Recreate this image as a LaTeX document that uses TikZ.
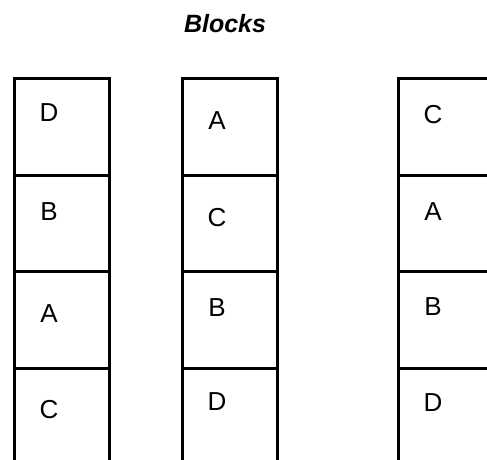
\documentclass[tikz,border=0pt]{standalone}
\usepackage{fontspec}
\setmainfont{Liberation Sans}
\begin{document}
\begin{tikzpicture}[x=1pt,y=-1pt,
  cell/.style={draw, line width=3.2pt, minimum width=95pt, minimum height=96.5pt, inner sep=0pt, anchor=north west},
  letter/.style={font=\fontsize{26}{30}\selectfont, inner sep=0pt, anchor=center},
  title/.style={font=\fontsize{25}{29}\selectfont\bfseries\itshape, inner sep=0pt}]
\useasboundingbox (0,0) rectangle (487,460);
\clip (0,0) rectangle (487,460);
\node[title] (t) at (225,24) {Blocks};
% stack 1
\node[cell] (s1a) at (13,77) {};
\node[cell] (s1b) at (13,173.5) {};
\node[cell] (s1c) at (13,270) {};
\node[cell] (s1d) at (13,366.5) {};
\node[letter] (l1a) at (49,113) {D};
\node[letter] (l1b) at (49,212) {B};
\node[letter] (l1c) at (49,314) {A};
\node[letter] (l1d) at (49,410) {C};
% stack 2
\node[cell] (s2a) at (181,77) {};
\node[cell] (s2b) at (181,173.5) {};
\node[cell] (s2c) at (181,270) {};
\node[cell] (s2d) at (181,366.5) {};
\node[letter] (l2a) at (217,121) {A};
\node[letter] (l2b) at (217,218) {C};
\node[letter] (l2c) at (217,308) {B};
\node[letter] (l2d) at (217,402) {D};
% stack 3
\node[cell] (s3a) at (397,77) {};
\node[cell] (s3b) at (397,173.5) {};
\node[cell] (s3c) at (397,270) {};
\node[cell] (s3d) at (397,366.5) {};
\node[letter] (l3a) at (433,115) {C};
\node[letter] (l3b) at (433,212) {A};
\node[letter] (l3c) at (433,307) {B};
\node[letter] (l3d) at (433,403) {D};
\end{tikzpicture}
\end{document}
